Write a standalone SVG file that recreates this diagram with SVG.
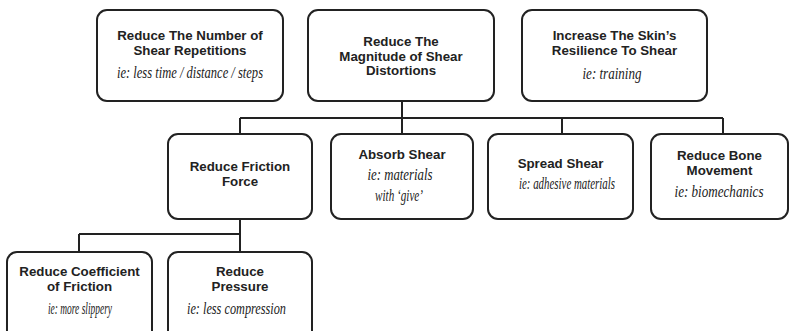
<svg xmlns="http://www.w3.org/2000/svg" width="790" height="331" viewBox="0 0 790 331">
<style>
.box{fill:#fff;stroke:#222;stroke-width:2}
.t{font-family:"Liberation Sans",Arial,sans-serif;font-weight:bold;font-size:13.3px;fill:#222;text-anchor:middle}
.s{font-family:"Liberation Serif","Times New Roman",serif;font-style:italic;font-size:16.5px;fill:#222;text-anchor:middle}
.c{fill:none;stroke:#222;stroke-width:2}
</style>
<rect width="790" height="331" fill="#fff"/>
<g id="connectors">
<path class="c" d="M402 101V118M240 118H723M240 118V134M402 118V134M562 118V134M723 118V134"/>
<path class="c" d="M240 219V252M79 234H240M79 234V252"/>
</g>
<g id="n1">
<rect class="box" x="97" y="10" width="186" height="91" rx="10"/>
<text class="t" x="190" y="40">Reduce The Number of</text>
<text class="t" x="190" y="55">Shear Repetitions</text>
<text class="s" x="190" y="78" textLength="146" lengthAdjust="spacingAndGlyphs">ie: less time / distance / steps</text>
</g>
<g id="n2">
<rect class="box" x="308" y="10" width="186" height="91" rx="10"/>
<text class="t" x="401" y="46">Reduce The</text>
<text class="t" x="401" y="61">Magnitude of Shear</text>
<text class="t" x="401" y="75">Distortions</text>
</g>
<g id="n3">
<rect class="box" x="522" y="10" width="185" height="91" rx="10"/>
<text class="t" x="614.5" y="40">Increase The Skin’s</text>
<text class="t" x="614.5" y="55">Resilience To Shear</text>
<text class="s" x="612" y="79" textLength="59" lengthAdjust="spacingAndGlyphs">ie: training</text>
</g>
<g id="n4">
<rect class="box" x="168" y="134" width="144" height="85" rx="10"/>
<text class="t" x="240" y="171">Reduce Friction</text>
<text class="t" x="240" y="186">Force</text>
</g>
<g id="n5">
<rect class="box" x="331" y="134" width="142" height="85" rx="10"/>
<text class="t" x="402" y="159">Absorb Shear</text>
<text class="s" x="400" y="180" textLength="65" lengthAdjust="spacingAndGlyphs">ie: materials</text>
<text class="s" x="399" y="201" textLength="48" lengthAdjust="spacingAndGlyphs">with ‘give’</text>
</g>
<g id="n6">
<rect class="box" x="488" y="134" width="145" height="85" rx="10"/>
<text class="t" x="560.5" y="168">Spread Shear</text>
<text class="s" x="567" y="189" textLength="96" lengthAdjust="spacingAndGlyphs">ie: adhesive materials</text>
</g>
<g id="n7">
<rect class="box" x="651" y="134" width="137" height="85" rx="10"/>
<text class="t" x="719.5" y="160">Reduce Bone</text>
<text class="t" x="719.5" y="175">Movement</text>
<text class="s" x="719" y="197" textLength="89" lengthAdjust="spacingAndGlyphs">ie: biomechanics</text>
</g>
<g id="n8">
<rect class="box" x="7" y="252" width="145" height="90" rx="10"/>
<text class="t" x="79.5" y="276">Reduce Coefficient</text>
<text class="t" x="79.5" y="291">of Friction</text>
<text class="s" x="80" y="314" textLength="64" lengthAdjust="spacingAndGlyphs">ie: more slippery</text>
</g>
<g id="n9">
<rect class="box" x="168" y="252" width="144" height="90" rx="10"/>
<text class="t" x="240" y="276">Reduce</text>
<text class="t" x="240" y="291">Pressure</text>
<text class="s" x="236.5" y="314" textLength="99" lengthAdjust="spacingAndGlyphs">ie: less compression</text>
</g>
</svg>
